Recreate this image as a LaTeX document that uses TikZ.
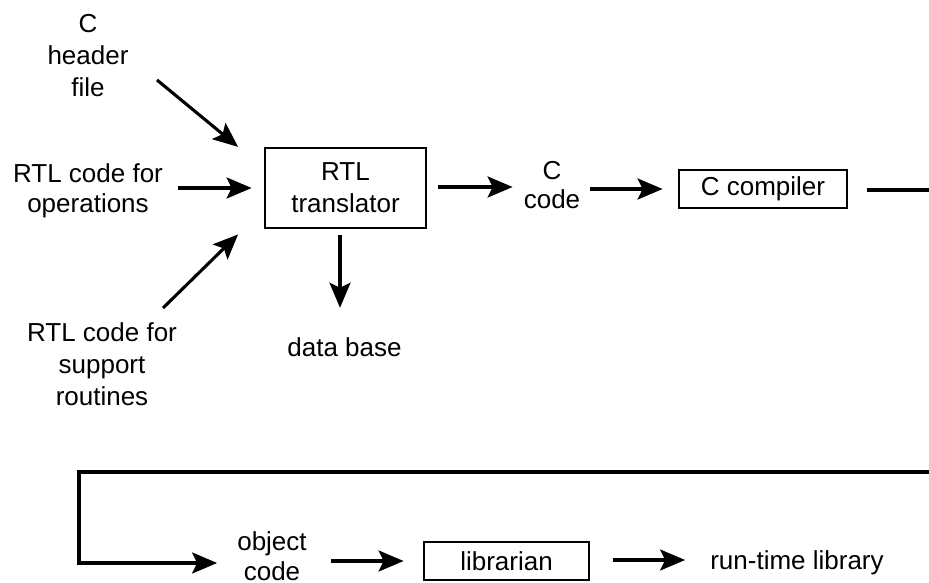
\documentclass[tikz,border=0pt]{standalone}
\usepackage{fontspec}
\setmainfont{Liberation Sans}
\usetikzlibrary{arrows.meta,calc}
\begin{document}
\begin{tikzpicture}[x=1pt,y=-1pt,
  lbl/.style={inner sep=0pt, align=center, font=\fontsize{26}{32}\selectfont},
  box/.style={draw, line width=2.8pt, inner sep=0pt, align=center, font=\fontsize{26}{32}\selectfont},
  arr/.style={line width=3.1pt, -{Stealth[length=25pt,width=21pt,inset=5pt]}},
  ln/.style={line width=3.1pt}]
\useasboundingbox (0,0) rectangle (929,583);
% nodes
\node[lbl] (hdr) at (88,56) {C\\header\\file};
\node[lbl, font=\fontsize{26}{30}\selectfont] (ops) at (88,191) {RTL code for\\operations};
\node[lbl] (sup) at (102,364) {RTL code for\\support\\routines};
\node[box, minimum width=161pt, minimum height=80pt] (trans) at (345.5,188) {RTL\\translator};
\node[lbl] (db) at (344.5,347.5) {data base};
\node[lbl, font=\fontsize{26}{29}\selectfont] (ccode) at (552,185) {C\\code};
\node[box, minimum width=168pt, minimum height=38pt] (comp) at (763,189) {C compiler};
\node[lbl, font=\fontsize{26}{30}\selectfont] (obj) at (272,556) {object\\code};
\node[box, minimum width=165pt, minimum height=38pt] (lib) at (506.5,561) {librarian};
\node[lbl] (rt) at (797,563) {run-time library};
\coordinate (outR) at (929,190);
\coordinate (inR) at (929,472);
\coordinate (cornerT) at (79,472);
\coordinate (cornerB) at (79,563);
% connectors
\draw[arr] ($(hdr.center)+(69,24)$) -- ($(trans.north west)+(-25.5,0.3)$);
\draw[arr, shorten <=15pt, shorten >=12pt] (ops.east |- trans.west) -- (trans.west);
\draw[arr] ($(sup.center)+(61,-56)$) -- ($(trans.south west)+(-25.5,5)$);
\draw[arr, shorten <=6pt, shorten >=30pt] ([xshift=-5.5pt]trans.south) -- ([xshift=-5.5pt]trans.south |- db.north);
\draw[arr, shorten <=11pt, shorten >=11pt] ([yshift=1pt]trans.east) -- ([yshift=1pt]trans.east -| ccode.west);
\draw[arr, shorten <=10pt, shorten >=15pt] (ccode.east |- comp.west) -- (comp.west);
\draw[ln, shorten <=19pt] (comp.east |- outR) -- (outR);
\draw[arr, shorten >=20pt] (inR) -- (cornerT) -- (cornerB) -- (cornerB -| obj.west);
\draw[arr, shorten <=24.5pt, shorten >=19pt] (obj.east |- lib.west) -- (lib.west);
\draw[arr, shorten <=23pt, shorten >=25pt] (lib.east |- 0,560) -- (rt.west |- 0,560);
\end{tikzpicture}
\end{document}
